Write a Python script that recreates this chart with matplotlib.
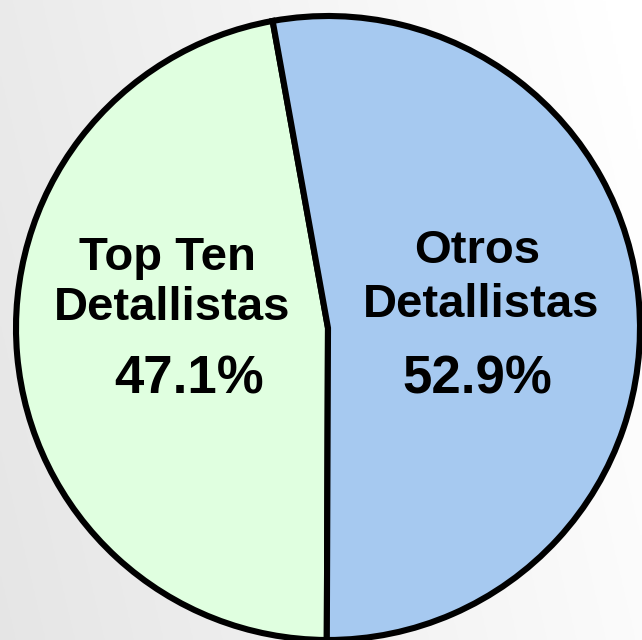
import matplotlib
matplotlib.use("Agg")
import matplotlib.pyplot as plt
import numpy as np

labels = ["Top Ten\nDetallistas", "Otros\nDetallistas"]
values = [47.1, 52.9]
colors = ["#e0ffe0", "#a6c9f0"]

W, H = 642, 640
fig = plt.figure(figsize=(W / 100, H / 100), dpi=100)
ax = fig.add_axes([0, 0, 1, 1])

# background gradient
gx = np.linspace(0, 1, 256)
gy = np.linspace(0, 1, 256)
X, Y = np.meshgrid(gx, gy)
grad = 0.90 + 0.085 * X + 0.02 * Y
bg = np.dstack([grad, grad, grad])
ax.imshow(bg, extent=(0, W, 0, H), origin="lower", aspect="auto", zorder=0)

cx, cy, r = 328, 312, 312
total = sum(values)
start = 185 - values[0] / total * 180
wedges, _ = ax.pie(values, colors=colors, startangle=start, counterclock=True,
                   center=(cx, cy), radius=r, frame=True,
                   wedgeprops=dict(edgecolor="black", linewidth=4.4, joinstyle="miter"))
for w in wedges:
    w.set_zorder(2)

ax.set_xlim(0, W)
ax.set_ylim(0, H)
ax.set_aspect("auto")
ax.axis("off")

font = dict(family="Liberation Sans", weight="bold", color="black", zorder=3)
# left label
l0 = labels[0].split("\n")
ax.text(167, H - 270, l0[0], ha="center", va="baseline", fontsize=34, **font)
ax.text(172, H - 320, l0[1], ha="center", va="baseline", fontsize=34, **font)
ax.text(189, H - 393, f"{values[0]:.1f}%", ha="center", va="baseline", fontsize=38, **font)
# right label
l1 = labels[1].split("\n")
ax.text(477, H - 263, l1[0], ha="center", va="baseline", fontsize=34, **font)
ax.text(481, H - 317, l1[1], ha="center", va="baseline", fontsize=34, **font)
ax.text(477, H - 393, f"{values[1]:.1f}%", ha="center", va="baseline", fontsize=38, **font)

fig.savefig("out.png", dpi=100)
